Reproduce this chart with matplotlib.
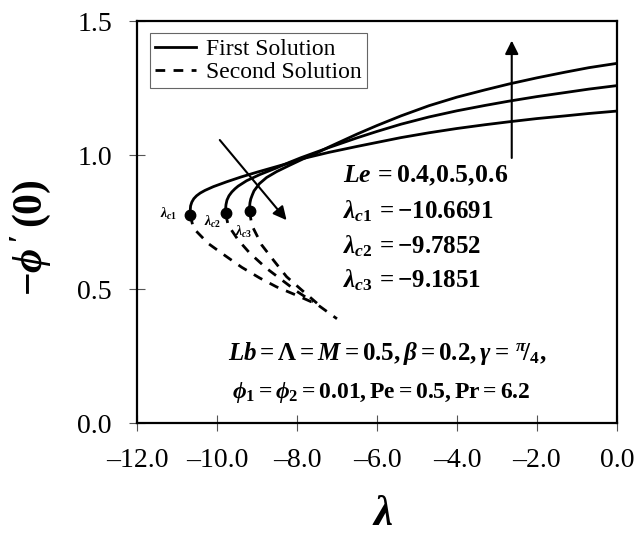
import matplotlib
matplotlib.use('Agg')
import matplotlib.pyplot as plt
from matplotlib.lines import Line2D

plt.rcParams['font.family'] = 'Liberation Serif'
plt.rcParams['mathtext.fontset'] = 'custom'
plt.rcParams['mathtext.rm'] = 'Liberation Serif:bold'
plt.rcParams['mathtext.it'] = 'Liberation Serif:italic:bold'
plt.rcParams['mathtext.bf'] = 'Liberation Serif:bold'

# critical points (lambda_c, -phi'(0))
lam_c = [-10.6691, -9.7852, -9.1851]
phi_c = [0.777, 0.782, 0.792]

# first (upper) solutions, Le = 0.4, 0.5, 0.6
lam_first_1 = [-10.6691, -10.668, -10.66, -10.63, -10.58, -10.51, -10.42, -10.3,
               -10.09, -9.76, -9.4, -9.0, -8.6, -8.2, -7.9, -7.2, -6.5, -6.0,
               -5.4, -4.7, -4.0, -3.3, -2.7, -2.0, -1.3, -0.7, 0.0]
phi_first_1 = [0.777, 0.795, 0.810, 0.824, 0.837, 0.848, 0.858, 0.868,
               0.882, 0.900, 0.918, 0.936, 0.953, 0.970, 0.985, 1.010, 1.032, 1.047,
               1.065, 1.083, 1.099, 1.113, 1.124, 1.136, 1.146, 1.155, 1.164]
lam_first_2 = [-9.7852, -9.784, -9.775, -9.75, -9.70, -9.63, -9.55, -9.47, -9.26,
               -8.93, -8.51, -8.2, -7.9, -7.2, -6.5, -6.0, -5.4, -4.7, -4.0,
               -3.3, -2.7, -2.0, -1.3, -0.7, 0.0]
phi_first_2 = [0.782, 0.800, 0.815, 0.832, 0.848, 0.862, 0.874, 0.884, 0.904,
               0.927, 0.952, 0.972, 0.990, 1.028, 1.064, 1.088, 1.115, 1.142, 1.165,
               1.185, 1.201, 1.218, 1.233, 1.246, 1.259]
lam_first_3 = [-9.1851, -9.184, -9.175, -9.155, -9.12, -9.075, -8.94, -8.76, -8.51,
               -8.18, -7.84, -7.5, -7.2, -6.5, -6.0, -5.4, -4.7, -4.0, -3.3,
               -2.7, -2.0, -1.3, -0.7, 0.0]
phi_first_3 = [0.792, 0.808, 0.822, 0.836, 0.850, 0.866, 0.893, 0.916, 0.938,
               0.962, 0.986, 1.008, 1.030, 1.078, 1.110, 1.146, 1.184, 1.216, 1.243,
               1.265, 1.288, 1.309, 1.326, 1.342]

# second (lower) solutions
lam_second_1 = [-10.6691, -10.59, -10.22, -9.8, -9.38, -8.93, -8.51, -8.0, -7.5, -7.0]
phi_second_1 = [0.777, 0.727, 0.670, 0.625, 0.581, 0.541, 0.508, 0.476, 0.443, 0.389]
lam_second_2 = [-9.7852, -9.72, -9.47, -9.18, -8.76, -8.38, -8.0, -7.6]
phi_second_2 = [0.782, 0.738, 0.683, 0.634, 0.577, 0.534, 0.491, 0.452]
lam_second_3 = [-9.1851, -9.13, -8.88, -8.59, -8.26, -7.88, -7.5]
phi_second_3 = [0.792, 0.738, 0.664, 0.608, 0.546, 0.496, 0.447]

xticks = [-12.0, -10.0, -8.0, -6.0, -4.0, -2.0, 0.0]
yticks = [0.0, 0.5, 1.0, 1.5]

fig = plt.figure(figsize=(6.36, 5.35), dpi=100)
ax = fig.add_axes([0.2154, 0.2093, 0.7546, 0.7514])

first = [(lam_first_1, phi_first_1), (lam_first_2, phi_first_2), (lam_first_3, phi_first_3)]
second = [(lam_second_1, phi_second_1), (lam_second_2, phi_second_2), (lam_second_3, phi_second_3)]

for x, y in first:
    ax.plot(x, y, color='black', lw=2.0, solid_joinstyle='round')
for x, y in second:
    ax.plot(x, y, color='black', lw=2.0, dashes=(3.5, 3.0), dash_capstyle='butt')
ax.plot(lam_c, phi_c, 'o', color='black', ms=7.5, zorder=5)

# labels at critical points
ax.text(-11.22, 0.78, r'$\lambda_{c1}$', fontsize=10, ha='center', va='center')
ax.text(-10.12, 0.75, r'$\lambda_{c2}$', fontsize=10, ha='center', va='center')
ax.text(-9.33, 0.713, r'$\lambda_{c3}$', fontsize=10, ha='center', va='center')

# arrows
ax.annotate('', xy=(-8.26, 0.757), xytext=(-9.93, 1.056),
            arrowprops=dict(arrowstyle='-|>', color='black', lw=1.5,
                            mutation_scale=20, shrinkA=0, shrinkB=0))
ax.annotate('', xy=(-2.63, 1.427), xytext=(-2.63, 0.989),
            arrowprops=dict(arrowstyle='-|>', color='black', lw=1.5,
                            mutation_scale=20, shrinkA=0, shrinkB=0))

# parameter text
ax.text(-6.85, 0.899, r'$Le$$\,=0.4,\!0.5,\!0.6$', fontsize=18.5, ha='left', va='baseline')
ax.text(-6.85, 0.765, r'$\lambda_{c1}\,=-10.6691$', fontsize=18, ha='left', va='baseline')
ax.text(-6.85, 0.634, r'$\lambda_{c2}\,=-9.7852$', fontsize=18, ha='left', va='baseline')
ax.text(-6.85, 0.507, r'$\lambda_{c3}\,=-9.1851$', fontsize=18, ha='left', va='baseline')
ax.text(-9.72, 0.235,
        r'$Lb=\Lambda=M=0.5,\beta=0.2,\gamma=\,^{\pi}\!/_{4},$',
        fontsize=18, ha='left', va='baseline')
ax.text(-9.62, 0.093,
        r'$\phi_1=\phi_2=0.01,\mathrm{Pe}=0.5,\mathrm{Pr}=6.2$',
        fontsize=17, ha='left', va='baseline')

handles = [Line2D([], [], color='black', lw=2.0),
           Line2D([], [], color='black', lw=2.0, dashes=(3.5, 3.0))]
leg = ax.legend(handles, ['First Solution', 'Second Solution'],
                loc='upper left', bbox_to_anchor=(0.027, 0.970), fontsize=17,
                handlelength=1.75, handletextpad=0.42, borderpad=0.22,
                labelspacing=0.08, fancybox=False, framealpha=1,
                borderaxespad=0)
leg.get_frame().set_edgecolor('#666666')
leg.get_frame().set_linewidth(0.8)

ax.set_xlim(-12.0, 0.0)
ax.set_ylim(0.0, 1.5)
ax.set_xticks(xticks)
ax.set_yticks(yticks)
ax.set_xticklabels([f'{t:.1f}'.replace('-', '\u2013') for t in xticks])
ax.set_yticklabels([f'{t:.1f}' for t in yticks])
ax.tick_params(direction='inout', length=12, width=0.8, color='#555555',
               labelsize=20, pad=12)
for s in ax.spines.values():
    s.set_linewidth(1.6)

ax.set_xlabel(r'$\lambda$', fontsize=31, va='center')
ax.xaxis.set_label_coords(0.5125, -0.228)
ax.set_ylabel(r'$-\phi\,^{\prime}\,(0)$', fontsize=30, va='center')
ax.yaxis.set_label_coords(-0.222, 0.46)

fig.savefig('out.png', dpi=100)
